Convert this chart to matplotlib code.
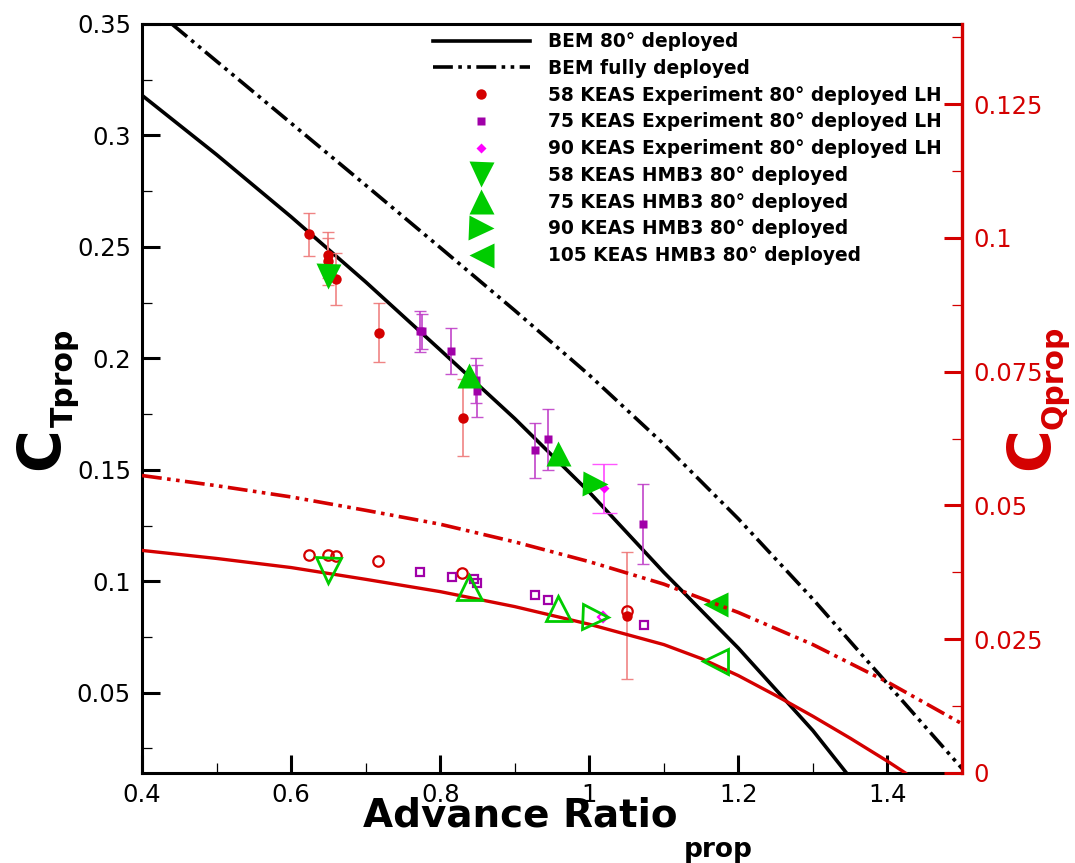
import numpy as np
import matplotlib.pyplot as plt
from matplotlib.ticker import MultipleLocator, FormatStrFormatter

# BEM curves
bem80_x = [0.40, 0.50, 0.60, 0.70, 0.80, 0.90, 1.00, 1.10, 1.20, 1.30, 1.345]
bem80_ct = [0.318, 0.2914, 0.2635, 0.2343, 0.2038, 0.1730, 0.1400, 0.1040, 0.0700, 0.0330, 0.014]
bemfull_x = [0.44, 0.50, 0.60, 0.70, 0.80, 0.90, 1.00, 1.10, 1.20, 1.30, 1.40, 1.50]
bemfull_ct = [0.35, 0.3333, 0.3055, 0.2777, 0.2497, 0.2215, 0.1925, 0.1615, 0.128, 0.092, 0.054, 0.016]
bem80q_x = [0.40, 0.50, 0.60, 0.70, 0.80, 0.90, 1.00, 1.10, 1.15, 1.20, 1.25, 1.30, 1.35, 1.40, 1.424]
bem80_cq = [0.0416, 0.0401, 0.0384, 0.0362, 0.0339, 0.0311, 0.0278, 0.0240, 0.0214, 0.0182,
            0.0145, 0.0106, 0.0065, 0.0022, 0.0]
bemfullq_x = [0.40, 0.50, 0.60, 0.70, 0.80, 0.90, 1.00, 1.10, 1.20, 1.30, 1.40, 1.50]
bemfull_cq = [0.0556, 0.0537, 0.0516, 0.0491, 0.0465, 0.0432, 0.0395, 0.0353, 0.0300, 0.0240, 0.0170, 0.0092]

# experiment, thrust coefficient with error bars
exp58_x = [0.624, 0.649, 0.649, 0.660, 0.718, 0.830, 1.050]
exp58_ct = [0.2556, 0.2464, 0.2435, 0.2356, 0.2116, 0.1734, 0.0845]
exp58_err = [0.0098, 0.0105, 0.0105, 0.0115, 0.0131, 0.0174, 0.0285]
exp75_x = [0.773, 0.775, 0.815, 0.848, 0.849, 0.927, 0.944, 1.072]
exp75_ct = [0.2121, 0.2121, 0.2033, 0.1901, 0.1854, 0.1588, 0.1638, 0.1256]
exp75_err = [0.0093, 0.0078, 0.0101, 0.0102, 0.0117, 0.0123, 0.0137, 0.018]
exp90_x = [1.020]
exp90_ct = [0.1417]
exp90_err = [0.0109]

# experiment, torque coefficient
exp58q_x = [0.624, 0.649, 0.660, 0.717, 0.829, 1.050]
exp58_cq = [0.0407, 0.0407, 0.0405, 0.0396, 0.0373, 0.0302]
exp75q_x = [0.773, 0.816, 0.846, 0.849, 0.927, 0.944, 1.073]
exp75_cq = [0.0376, 0.0366, 0.0362, 0.0356, 0.0332, 0.0324, 0.0277]
exp90q_x = [1.018]
exp90_cq = [0.0291]

# HMB3 CFD
hmb58_x = [0.649]
hmb58_ct = [0.2368]
hmb58_cq = [0.0380]
hmb75_x = [0.838, 0.958]
hmb75_ct = [0.1924, 0.1576]
hmb75_cq = [0.0347, 0.0308]
hmb90_x = [1.008]
hmb90_ct = [0.1438]
hmb90_cq = [0.0291]
hmb105_x = [1.169]
hmb105_ct = [0.0900]
hmb105_cq = [0.0210]

red = '#d40000'
purple = '#a000a8'
magenta = '#ff00ff'
green = '#00cc00'

W, H = 1075, 863
fig = plt.figure(figsize=(W / 100, H / 100), dpi=100)
ax = fig.add_axes([0.1321, 0.1043, 0.7628, 0.8679])
ax2 = ax.twinx()

dashdot2 = (0, (5.5, 1.5, 1, 1.5, 1, 1.5))

l1, = ax.plot(bem80_x, bem80_ct, color='black', lw=2.6)
l2, = ax.plot(bemfull_x, bemfull_ct, color='black', lw=2.6, linestyle=dashdot2)
ax2.plot(bem80q_x, bem80_cq, color=red, lw=2.4)
ax2.plot(bemfullq_x, bemfull_cq, color=red, lw=2.6, linestyle=dashdot2)

ax.errorbar(exp58_x, exp58_ct, yerr=exp58_err, fmt='none', ecolor='#ee7777', elinewidth=1.2, capsize=4, alpha=0.9)
ax.errorbar(exp75_x, exp75_ct, yerr=exp75_err, fmt='none', ecolor='#c040c8', elinewidth=1.3, capsize=4, alpha=0.9)
ax.errorbar(exp90_x, exp90_ct, yerr=exp90_err, fmt='none', ecolor='#ff44ff', elinewidth=1.3, capsize=9, alpha=0.9)

m1, = ax.plot(exp58_x, exp58_ct, 'o', color=red, ms=7.5, mec='none')
m2, = ax.plot(exp75_x, exp75_ct, 's', color=purple, ms=5.5, mec='none')
m3, = ax.plot(exp90_x, exp90_ct, 'D', color=magenta, ms=5, mec='none')

ax2.plot(exp58q_x, exp58_cq, 'o', mfc='none', mec=red, ms=7.5, mew=1.6)
ax2.plot(exp75q_x, exp75_cq, 's', mfc='none', mec=purple, ms=5.5, mew=1.6)
ax2.plot(exp90q_x, exp90_cq, 'D', mfc='none', mec=magenta, ms=5, mew=1.6)

g1, = ax.plot(hmb58_x, hmb58_ct, 'v', color=green, ms=18, mec='none')
g2, = ax.plot(hmb75_x, hmb75_ct, '^', color=green, ms=18, mec='none')
g3, = ax.plot(hmb90_x, hmb90_ct, '>', color=green, ms=18, mec='none')
g4, = ax.plot(hmb105_x, hmb105_ct, '<', color=green, ms=18, mec='none')

ax2.plot(hmb58_x, hmb58_cq, 'v', mfc='none', mec=green, ms=18, mew=2)
ax2.plot(hmb75_x, hmb75_cq, '^', mfc='none', mec=green, ms=18, mew=2)
ax2.plot(hmb90_x, hmb90_cq, '>', mfc='none', mec=green, ms=18, mew=2)
ax2.plot(hmb105_x, hmb105_cq, '<', mfc='none', mec=green, ms=18, mew=2)

ax.set_xlim(0.4, 1.5)
ax.set_ylim(0.014, 0.35)
ax2.set_ylim(0, 0.14)

ax.xaxis.set_major_locator(MultipleLocator(0.2))
ax.xaxis.set_minor_locator(MultipleLocator(0.1))
ax.yaxis.set_major_locator(MultipleLocator(0.05))
ax.yaxis.set_minor_locator(MultipleLocator(0.025))
ax2.yaxis.set_major_locator(MultipleLocator(0.025))
ax2.yaxis.set_minor_locator(MultipleLocator(0.0125))
for a in (ax.xaxis, ax.yaxis, ax2.yaxis):
    a.set_major_formatter(FormatStrFormatter('%g'))

ax.tick_params(which='major', direction='in', length=13, width=2.2, labelsize=17.5, pad=8)
ax.tick_params(which='minor', direction='in', length=7.5, width=0.9)
ax.tick_params(axis='y', right=False, which='both')
ax.tick_params(axis='x', top=False, which='both')
ax.tick_params(axis='x', which='major', pad=7)
ax2.tick_params(which='major', direction='in', length=13, width=2.2, labelsize=17.5, pad=8,
                color=red, labelcolor=red)
ax2.tick_params(which='minor', direction='in', length=7.5, width=0.9, color=red)

for s in ('left', 'bottom', 'top'):
    ax.spines[s].set_linewidth(2.2)
ax.spines['right'].set_visible(False)
for s in ('left', 'bottom', 'top'):
    ax2.spines[s].set_visible(False)
ax2.spines['right'].set_color(red)
ax2.spines['right'].set_linewidth(2.4)


# axis titles: big letter plus smaller subscript, placed in pixels
def label(x, y, s, size, color='black', rot=0):
    fig.text(x / W, 1 - y / H, s, fontsize=size, fontweight='bold', color=color,
             rotation=rot, rotation_mode='anchor', ha='left', va='baseline')


label(363, 826, 'Advance Ratio', 28)
label(684, 857, 'prop', 19)
label(58, 470, 'C', 42, rot=90)
label(73, 427, 'Tprop', 21.5, rot=90)
label(1048, 470, 'C', 42, color=red, rot=90)
label(1063, 429, 'Qprop', 21.5, color=red, rot=90)

handles = [l1, l2, m1, m2, m3, g1, g2, g3, g4]
labels = ['BEM 80° deployed', 'BEM fully deployed',
          '58 KEAS Experiment 80° deployed LH',
          '75 KEAS Experiment 80° deployed LH',
          '90 KEAS Experiment 80° deployed LH',
          '58 KEAS HMB3 80° deployed', '75 KEAS HMB3 80° deployed',
          '90 KEAS HMB3 80° deployed', '105 KEAS HMB3 80° deployed']
ax2.legend(handles, labels, loc='upper left', bbox_to_anchor=(0.355, 0.989), frameon=False,
           prop={'size': 13.4, 'weight': 'bold'}, handlelength=5.2, handletextpad=0.95,
           labelspacing=0.415, borderpad=0, borderaxespad=0, numpoints=1)

fig.savefig('out.png', dpi=100)
